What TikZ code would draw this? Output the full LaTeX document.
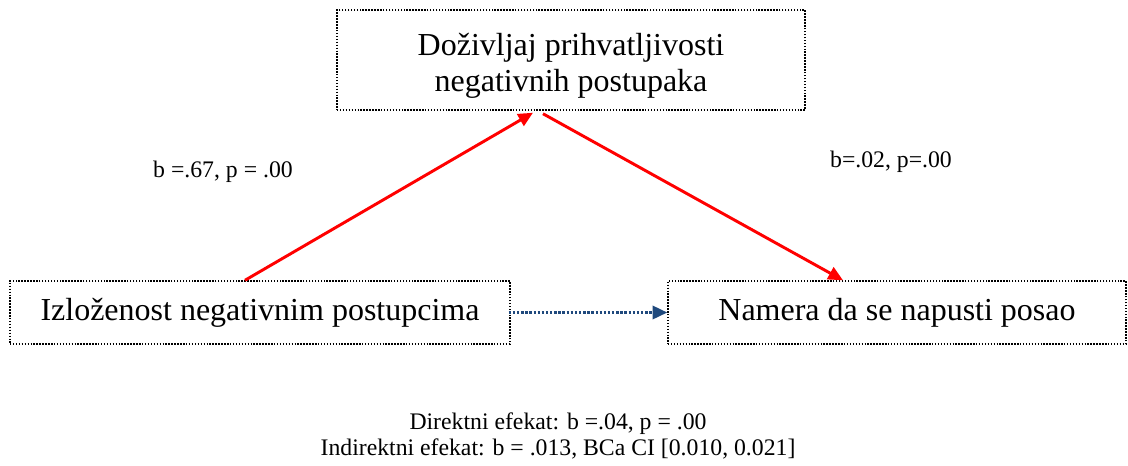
\documentclass[tikz,border=0pt]{standalone}
\usepackage{fontspec}
\setmainfont{Liberation Serif}
\usetikzlibrary{arrows.meta,calc}
\definecolor{pathblue}{HTML}{1F497D}

\begin{document}
\begin{tikzpicture}[x=0.75pt,y=-0.75pt,
  varbox/.style={draw,line width=1.1pt,dash pattern=on 1.1pt off 1.1pt,inner sep=0pt,
    align=center,font=\fontsize{24}{27}\selectfont},
  patharrow/.style={red,line width=2.2pt,-{Triangle[length=11pt,width=10pt]}},
  directarrow/.style={pathblue,line width=1.8pt,dash pattern=on 1.8pt off 1.3pt,
    -{Triangle[length=11pt,width=10pt]}},
  coef/.style={font=\fontsize{17.8}{18}\selectfont,align=center}]
\useasboundingbox (0,0) rectangle (1128,465);
\node[varbox,minimum width=351pt,minimum height=75pt] (doz) at (571,60) {\rule{0pt}{25pt}Doživljaj prihvatljivosti\\negativnih postupaka};
\node[varbox,minimum width=375pt,minimum height=47.25pt] (izl) at (260,312.5) {Izloženost negativnim postupcima};
\node[varbox,minimum width=343.5pt,minimum height=47.25pt] (nam) at (897,312.5) {Namera da se napusti posao};
\draw[patharrow] ($(izl.north)+(-15,0)$) -- ($(doz.south)+(-38,2)$);
\draw[patharrow] ($(doz.south)+(-28,3)$) -- ($(nam.north)+(-54,0)$);
\draw[directarrow] ($(izl.east)+(-2,0)$) -- (nam.west);
\node[coef] (ab) at (223,172) {b =.67, p = .00};
\node[coef] (bb) at (891,162) {b=.02, p=.00};
\node[coef] (eff) at (558,436) {Direktni efekat: b =.04, p = .00\\[1.5pt]Indirektni efekat: b = .013, BCa CI [0.010, 0.021]};
\end{tikzpicture}
\end{document}
